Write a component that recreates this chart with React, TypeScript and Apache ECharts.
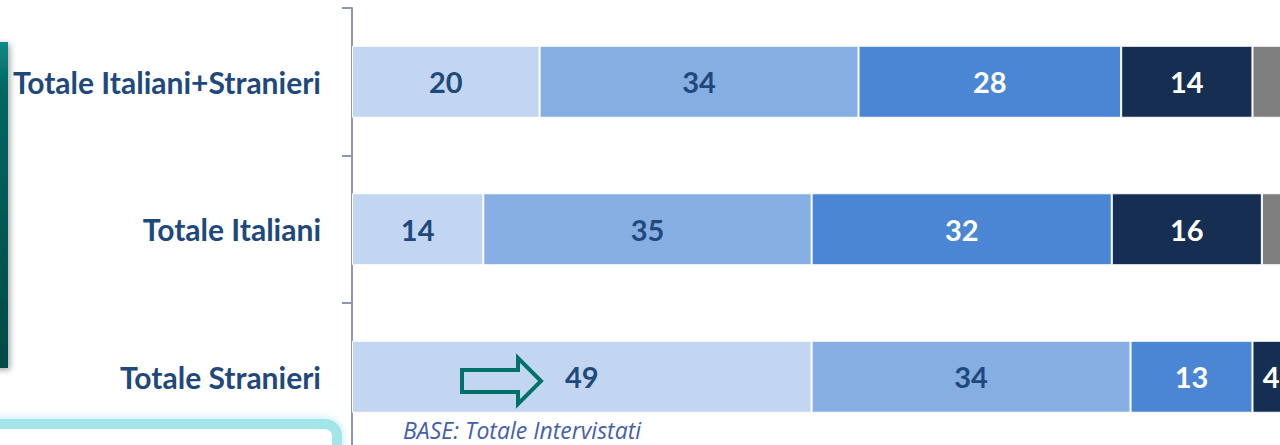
import React, { useEffect, useRef } from "react";
import * as echarts from "echarts";

const categories = ["Totale Italiani+Stranieri", "Totale Italiani", "Totale Stranieri"];
const seriesNames = ["Molto", "Abbastanza", "Poco", "Per niente", "Non sa"];
const valuesMolto = [20, 14, 49];
const valuesAbbastanza = [34, 35, 34];
const valuesPoco = [28, 32, 13];
const valuesPerNiente = [14, 16, 4];
const valuesNonSa = [4, 3, 0];
const xTicks = [0, 100];

const seriesValues = [valuesMolto, valuesAbbastanza, valuesPoco, valuesPerNiente, valuesNonSa];
const colors = ["#C3D6F1", "#86AEE2", "#4A86D4", "#162E52", "#7F7F7F"];
const labelColors = ["#1F497D", "#1F497D", "#FFFFFF", "#FFFFFF", "#FFFFFF"];
const showLabel = [true, true, true, true, false];

export default function App() {
  const ref = useRef<HTMLDivElement>(null);
  useEffect(() => {
    if (!ref.current) return;
    const chart = echarts.init(ref.current, undefined, { renderer: "svg" });
    chart.setOption({
      animation: false,
      grid: { left: 352, top: 8, width: 938, height: 442.5, containLabel: false },
      xAxis: {
        type: "value",
        min: xTicks[0],
        max: xTicks[1],
        show: false,
      },
      yAxis: {
        type: "category",
        data: categories,
        inverse: true,
        axisLine: { show: true, lineStyle: { color: "#8E97AE", width: 2 } },
        axisTick: { show: true, length: 10, lineStyle: { color: "#8E97AE", width: 2 } },
        axisLabel: {
          margin: 31,
          fontFamily: "Lato",
          fontWeight: "bold",
          fontSize: 30,
          color: "#1F497D",
        },
        splitLine: { show: false },
      },
      series: seriesValues.map((vals, i) => ({
        name: seriesNames[i],
        type: "bar",
        stack: "total",
        barWidth: 72,
        data: vals,
        itemStyle: { color: colors[i], borderColor: "#FFFFFF", borderWidth: 1 },
        label: {
          show: showLabel[i],
          position: "inside",
          fontFamily: "Lato",
          fontWeight: "bold",
          fontSize: 29,
          color: labelColors[i],
          formatter: (p: any) => (p.value ? String(p.value) : ""),
        },
      })),
      graphic: [
        {
          type: "rect",
          z: 100,
          shape: { x: -10, y: 42, width: 18, height: 326 },
          style: {
            fill: new echarts.graphic.LinearGradient(0, 0, 0, 1, [
              { offset: 0, color: "#0E8A86" },
              { offset: 0.15, color: "#006662" },
              { offset: 1, color: "#004A48" },
            ]),
            shadowBlur: 6,
            shadowColor: "rgba(0,0,0,0.35)",
            shadowOffsetX: 2,
            shadowOffsetY: 2,
          },
        },
        {
          type: "rect",
          z: 100,
          shape: { x: -20, y: 424, width: 357, height: 60, r: 12 },
          style: {
            fill: "#FFFFFF",
            stroke: "#A3E6EA",
            lineWidth: 10,
            shadowBlur: 10,
            shadowColor: "rgba(163,230,234,0.8)",
          },
        },
        {
          type: "polygon",
          z: 100,
          shape: {
            points: [
              [462, 370],
              [518, 370],
              [518, 358],
              [541, 381],
              [518, 404],
              [518, 392],
              [462, 392],
            ],
          },
          style: { fill: "transparent", stroke: "#00706A", lineWidth: 4 },
        },
        {
          type: "text",
          z: 100,
          x: 403,
          y: 441,
          style: {
            text: "BASE: Totale Intervistati",
            fontFamily: "Open Sans",
            fontStyle: "italic",
            fontSize: 23,
            fill: "#4460A8",
            verticalAlign: "bottom",
          },
        },
      ],
    });
    return () => chart.dispose();
  }, []);
  return (
    <div style={{ position: "fixed", left: 0, top: 0, width: 1280, height: 445, overflow: "hidden", background: "#fff" }}>
      <div ref={ref} style={{ width: 1300, height: 470 }} />
    </div>
  );
}
